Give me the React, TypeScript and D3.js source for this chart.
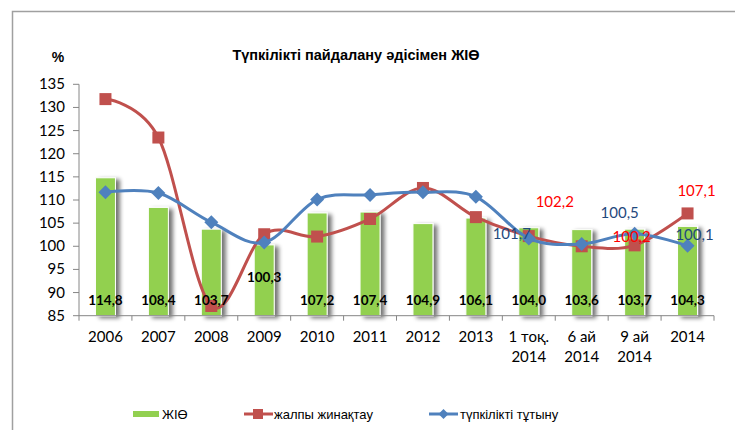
import * as d3 from "d3";

// categories (two-line labels split with \n)
const categories = ["2006", "2007", "2008", "2009", "2010", "2011", "2012", "2013", "1 тоқ.\n2014", "6 ай\n2014", "9 ай\n2014", "2014"];
const gdp = [114.8, 108.4, 103.7, 100.3, 107.2, 107.4, 104.9, 106.1, 104.0, 103.6, 103.7, 104.3];
const accumulation = [131.8, 123.5, 87.1, 102.6, 102.1, 105.9, 112.6, 106.3, 102.2, 100.0, 100.2, 107.1];
const consumption = [111.7, 111.5, 105.2, 100.8, 110.1, 111.1, 111.7, 110.7, 101.7, 100.5, 102.7, 100.1];
const yTicks = [85, 90, 95, 100, 105, 110, 115, 120, 125, 130, 135];
// which points carry a value label
const accLabelIdx = [8, 10, 11];
const consLabelIdx = [8, 9, 11];

const W = 735, H = 430;
const fmt = (v: number) => v.toFixed(1).replace(".", ",");

export default function App() {
  const x = d3.scaleBand<number>().domain(d3.range(categories.length)).range([79, 714]);
  const y = d3.scaleLinear().domain([85, 135]).range([315.7, 84.3]);
  const cx = (i: number) => (x(i) as number) + x.bandwidth() / 2;
  const barW = 20;

  const line = d3.line<number>().x((_, i) => cx(i)).y((d) => y(d)).curve(d3.curveCardinal.tension(0));

  // manual label nudges like the original (px)
  const accOff: Record<number, [number, number]> = { 8: [26, -29], 10: [-3, -3], 11: [9, -17] };
  const consOff: Record<number, [number, number]> = { 8: [-17, 1], 9: [38, -26], 11: [7, -6] };
  const gdpLabelY = (i: number) => (i === 3 ? 282 : 305);

  const red = "#C0504D", blue = "#4F81BD", green = "#92D050", axis = "#868686";
  const font = "Lato, 'Open Sans', sans-serif";

  return (
    <svg width={W} height={H} style={{ position: "absolute", left: 0, top: 0 }}>
      <defs>
        <filter id="sh" x="-50%" y="-20%" width="200%" height="140%">
          <feGaussianBlur in="SourceAlpha" stdDeviation="2" />
          <feOffset dx="4" dy="2" result="o" />
          <feComponentTransfer><feFuncA type="linear" slope="0.55" /></feComponentTransfer>
          <feMerge><feMergeNode /><feMergeNode in="SourceGraphic" /></feMerge>
        </filter>
      </defs>
      <rect width={W} height={H} fill="#fff" />
      <path d={`M12.5,${H}V11.5H${W}`} fill="none" stroke="#a0a0a0" strokeWidth={1.5} />

      <text x={58} y={62} textAnchor="middle" fontFamily="Liberation Sans, Arial" fontWeight="bold" fontSize={14}>%</text>
      <text x={356} y={60} textAnchor="middle" fontFamily="Liberation Sans, Arial" fontWeight="bold" fontSize={14.5}>Түпкілікті пайдалану әдісімен ЖІӨ</text>

      {/* y axis */}
      <line x1={79} x2={79} y1={y(135)} y2={y(85)} stroke={axis} />
      {yTicks.map((t) => (
        <g key={t}>
          <line x1={73} x2={79} y1={y(t)} y2={y(t)} stroke={axis} />
          <text x={65} y={y(t) + 5} textAnchor="end" fontFamily={font} fontSize={15}>{t}</text>
        </g>
      ))}

      {/* bars */}
      {gdp.map((v, i) => (
        <rect key={i} x={cx(i) - barW / 2} y={y(v)} width={barW} height={y(85) - y(v)} fill={green} stroke="#fff" strokeWidth={1} filter="url(#sh)" />
      ))}

      {/* x axis */}
      <line x1={79} x2={714} y1={y(85)} y2={y(85)} stroke={axis} />
      {d3.range(categories.length + 1).map((i) => {
        const xx = 79 + i * x.bandwidth();
        return <line key={i} x1={xx} x2={xx} y1={y(85)} y2={y(85) + 5} stroke={axis} />;
      })}
      {categories.map((c, i) => (
        <text key={i} x={cx(i)} textAnchor="middle" fontFamily={font} fontSize={15}>
          {c.split("\n").map((s, k) => (
            <tspan key={k} x={cx(i)} y={342 + k * 20}>{s}</tspan>
          ))}
        </text>
      ))}

      {/* lines */}
      <path d={line(accumulation) || ""} fill="none" stroke={red} strokeWidth={3} />
      {accumulation.map((v, i) => (
        <rect key={i} x={cx(i) - 6} y={y(v) - 6} width={12} height={12} fill={red} />
      ))}
      <path d={line(consumption) || ""} fill="none" stroke={blue} strokeWidth={3} />
      {consumption.map((v, i) => (
        <path key={i} d="M0,-7L7,0L0,7L-7,0Z" transform={`translate(${cx(i)},${y(v)})`} fill={blue} />
      ))}

      {/* bar labels */}
      {gdp.map((v, i) => (
        <text key={i} x={cx(i)} y={gdpLabelY(i)} textAnchor="middle" fontFamily={font} fontWeight="bold" fontSize={13.5}>{fmt(v)}</text>
      ))}
      {accLabelIdx.map((i) => (
        <text key={i} x={cx(i) + accOff[i][0]} y={y(accumulation[i]) + accOff[i][1]} textAnchor="middle" fontFamily={font} fontSize={15} fill="#FF0000">{fmt(accumulation[i])}</text>
      ))}
      {consLabelIdx.map((i) => (
        <text key={i} x={cx(i) + consOff[i][0]} y={y(consumption[i]) + consOff[i][1]} textAnchor="middle" fontFamily={font} fontSize={15} fill="#1F497D">{fmt(consumption[i])}</text>
      ))}

      {/* legend */}
      <g fontFamily="Liberation Sans, Arial" fontSize={13}>
        <rect x={133} y={411} width={26} height={6} fill={green} />
        <text x={162} y={419}>ЖІӨ</text>
        <line x1={244} x2={273} y1={414} y2={414} stroke={red} strokeWidth={3} />
        <rect x={253} y={409} width={10} height={10} fill={red} />
        <text x={274} y={419}>жалпы жинақтау</text>
        <line x1={429} x2={458} y1={414} y2={414} stroke={blue} strokeWidth={3} />
        <path d="M0,-5L5,0L0,5L-5,0Z" transform="translate(443.5,414)" fill={blue} />
        <text x={460} y={419}>түпкілікті тұтыну</text>
      </g>
    </svg>
  );
}
